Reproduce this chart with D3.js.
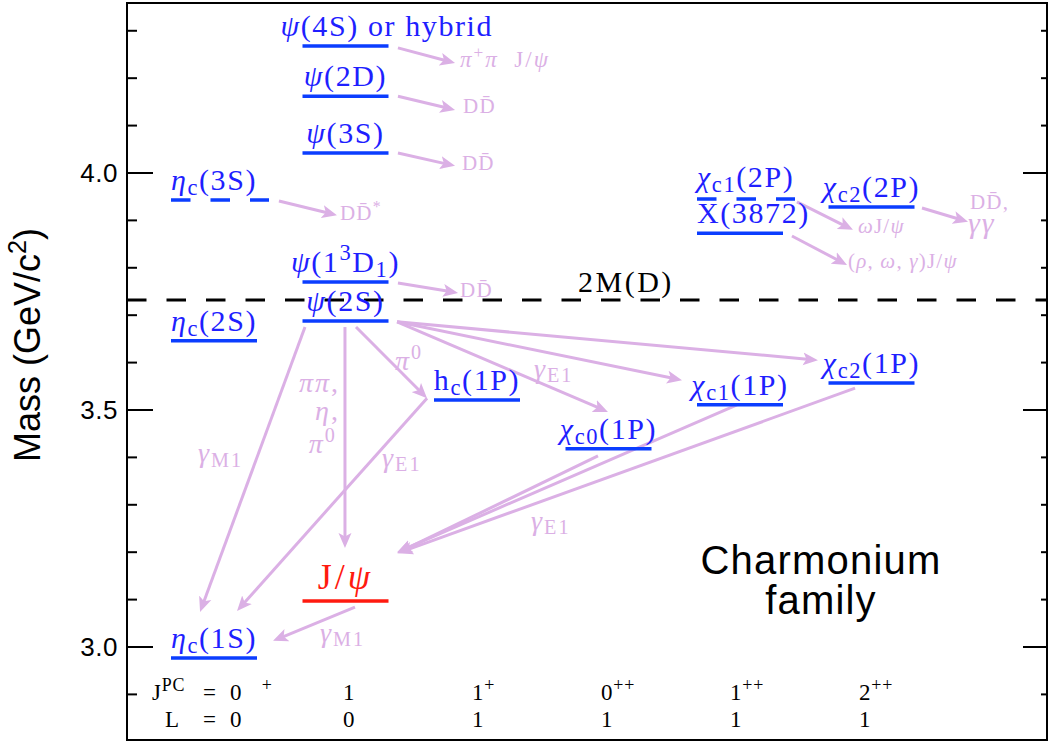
<!DOCTYPE html>
<html>
<head>
<meta charset="utf-8">
<script src="https://cdn.jsdelivr.net/npm/d3@7"></script>
<style>
  body { margin: 0; background: #fff; }
  text { white-space: pre; }
</style>
</head>
<body>
<div id="chart"></div>
<script>
const WIDTH = 1052, HEIGHT = 742;
const frame = {left: 127, right: 1047, top: 3, bottom: 740};

// levels: name, column (J^PC slot), mass in GeV
const levelNames = ["η_{c}(1S)", "J/ψ", "η_{c}(2S)", "ψ(2S)", "ψ(1^{3}D_{1})", "η_{c}(3S)",
                    "ψ(3S)", "ψ(2D)", "ψ(4S) or hybrid", "h_{c}(1P)", "χ_{c0}(1P)", "χ_{c1}(1P)",
                    "χ_{c2}(1P)", "X(3872)", "χ_{c1}(2P)", "χ_{c2}(2P)"];
const levelColumn = [0, 1, 0, 1, 1, 0, 1, 1, 1, 2, 3, 4, 5, 4, 4, 5];
const levelMass = [2.977, 3.097, 3.646, 3.688, 3.770, 3.943, 4.042, 4.162, 4.268,
                   3.521, 3.418, 3.511, 3.557, 3.873, 3.945, 3.928];
const predictedLevels = ["η_{c}(3S)", "χ_{c1}(2P)"];

// threshold
const thresholdMass = 3.732;
const thresholdLabel = "2M(D)";

// transitions / decays, [column, mass] start and end
const arrowStart = [[1.399, 4.264], [1.399, 4.162], [1.399, 4.042], [0.494, 3.941], [1.399, 3.768],
                    [1.392, 3.686], [1.392, 3.686], [1.392, 3.686], [1.080, 3.675], [0.996, 3.675],
                    [0.692, 3.675], [1.620, 3.525], [2.920, 3.403], [3.977, 3.511], [4.875, 3.546],
                    [1.072, 3.084], [4.433, 3.939], [4.395, 3.867], [5.384, 3.926]];
const arrowEnd = [[1.833, 4.232], [1.833, 4.133], [1.833, 4.015], [0.935, 3.911], [1.856, 3.747],
                  [4.593, 3.605], [3.559, 3.563], [2.996, 3.496], [1.620, 3.525], [0.996, 3.209],
                  [-0.106, 3.074], [0.175, 3.076], [1.392, 3.198], [1.392, 3.200], [1.399, 3.198],
                  [0.449, 3.013], [4.859, 3.880], [4.814, 3.806], [5.734, 3.897]];

// decay products
const decayText = ["π^{+}π  J/ψ", "DD\u0304", "DD\u0304", "DD\u0304^{*}", "DD\u0304",
                   "ωJ/ψ", "(ρ, ω, γ)J/ψ", "DD\u0304,", "γγ"];
const decayPos = [[1.871, 4.224], [1.894, 4.127], [1.886, 4.006], [0.958, 3.901], [1.871, 3.738],
                  [4.897, 3.873], [4.821, 3.800], [5.749, 3.924], [5.734, 3.874]];

// transition labels
const transText = ["ππ,", "η,", "π^{0}", "γ_{M1}", "π^{0}", "γ_{E1}", "γ_{E1}", "γ_{E1}", "γ_{M1}"];
const transPos = [[0.958, 3.538], [0.958, 3.479], [0.935, 3.409], [-0.122, 3.390], [1.376, 3.584],
                  [1.278, 3.380], [2.433, 3.568], [2.411, 3.247], [0.806, 3.011]];

// quantum numbers row
const jpcValues = ["0^{\u2007\u2007+}", "1", "1^{+}", "0^{++}", "1^{++}", "2^{++}"];
const lValues = ["0", "0", "1", "1", "1", "1"];

const majorTicks = [3.0, 3.5, 4.0];
const minorTicks = d3.range(29, 44).map(d => d / 10);

const blueText = "#1f1fff", blueLine = "#0b3dff", redC = "#ff1a0f", pink = "#dbb0e5";
const serif = "'Liberation Serif', 'Times New Roman', serif";
const sans = "'Liberation Sans', Arial, sans-serif";

let svg = d3.select("#chart").append("svg")
    .attr("width", WIDTH)
    .attr("height", HEIGHT);

let x = d3.scaleLinear().domain([0, 5]).range([214, 871.5]);
let y = d3.scaleLinear().domain([2.8038, 4.3586]).range([frame.bottom, frame.top]);
let xq = d3.scaleLinear().domain([1, 5]).range([343, 859]);

// rich text: _{sub}, ^{sup}, greek in italic
function rich(sel, str, size, subScale = 0.7) {
    const re = /([_^])\{([^}]*)\}|([^_^]+)/g;
    let shift = 0, m;
    while ((m = re.exec(str))) {
        let mode = m[1] ? (m[1] === "_" ? "sub" : "sup") : "normal";
        let txt = m[1] ? m[2] : m[3];
        let target = mode === "sub" ? 0.16 * size : mode === "sup" ? -0.4 * size : 0;
        let fs = mode === "normal" ? size : subScale * size;
        let parts = txt.match(/[\u0370-\u03ff]+|[^\u0370-\u03ff]+/g) || [];
        parts.forEach((p, i) => {
            let t = sel.append("tspan").attr("font-size", fs).text(p);
            if (/[\u0370-\u03ff]/.test(p)) t.attr("font-style", "italic");
            if (i === 0 && target !== shift) { t.attr("dy", target - shift); shift = target; }
        });
    }
}

// arrow marker
svg.append("defs").append("marker")
    .attr("id", "head")
    .attr("markerUnits", "userSpaceOnUse")
    .attr("viewBox", "0 -7 16 14")
    .attr("markerWidth", 16).attr("markerHeight", 14)
    .attr("refX", 7).attr("refY", 0)
    .attr("orient", "auto")
    .append("path")
    .attr("d", "M0,-6.5 L15,0 L0,6.5 L3.5,0 Z")
    .attr("fill", pink);

// frame
svg.append("rect")
    .attr("x", frame.left).attr("y", frame.top)
    .attr("width", frame.right - frame.left).attr("height", frame.bottom - frame.top)
    .attr("fill", "none").attr("stroke", "#000").attr("stroke-width", 2);

// ticks on both sides, pointing inward
let ticks = svg.append("g").attr("stroke", "#000").attr("stroke-width", 2);
minorTicks.forEach(v => {
    let big = majorTicks.some(t => Math.abs(t - v) < 1e-6);
    ticks.append("line").attr("x1", frame.left).attr("x2", frame.left + (big ? 26 : 10))
        .attr("y1", y(v)).attr("y2", y(v));
    ticks.append("line").attr("x1", frame.right).attr("x2", frame.right - (big ? 24 : 6))
        .attr("y1", y(v)).attr("y2", y(v));
});
svg.selectAll(".ticklabel").data(majorTicks).enter().append("text")
    .attr("x", 118).attr("y", d => y(d))
    .attr("dy", "0.35em")
    .attr("text-anchor", "end")
    .attr("font-family", sans).attr("font-size", 26).attr("letter-spacing", 0.5)
    .text(d => d.toFixed(1));

let ylab = svg.append("text")
    .attr("transform", `translate(40, 345) rotate(-90)`)
    .attr("text-anchor", "middle")
    .attr("font-family", sans).attr("font-size", 36);
rich(ylab, "Mass (GeV/c^{2})", 36);

// threshold line
svg.append("line")
    .attr("x1", frame.left).attr("x2", frame.right)
    .attr("y1", y(thresholdMass)).attr("y2", y(thresholdMass))
    .attr("stroke", "#000").attr("stroke-width", 3).attr("stroke-dasharray", "19.5,20");
let thr = svg.append("text")
    .attr("x", 578).attr("y", y(thresholdMass) - 8)
    .attr("font-family", serif).attr("font-size", 30).attr("letter-spacing", 2.5).attr("fill", "#000");
rich(thr, thresholdLabel, 30);

// arrows
arrowStart.forEach((s, i) => {
    let e = arrowEnd[i];
    let x1 = x(s[0]), y1 = y(s[1]), x2 = x(e[0]), y2 = y(e[1]);
    let len = Math.hypot(x2 - x1, y2 - y1);
    let k = (len - 8) / len;
    svg.append("line")
        .attr("x1", x1).attr("y1", y1)
        .attr("x2", x1 + (x2 - x1) * k).attr("y2", y1 + (y2 - y1) * k)
        .attr("stroke", pink).attr("stroke-width", 3)
        .attr("marker-end", "url(#head)");
});

// levels
const HALF = 43;
levelNames.forEach((name, i) => {
    let cx = x(levelColumn[i]), ly = y(levelMass[i]);
    let dashed = predictedLevels.includes(name);
    let isJpsi = name === "J/ψ";
    svg.append("line")
        .attr("x1", cx - HALF).attr("x2", cx - HALF + (dashed ? 98 : 2 * HALF))
        .attr("y1", ly).attr("y2", ly)
        .attr("stroke", isJpsi ? redC : blueLine).attr("stroke-width", 3.5)
        .attr("stroke-dasharray", dashed ? "19.5,20" : null);

    let size = isJpsi ? 36 : 30;
    let anchor = "middle", tx = cx;
    if (name === "ψ(4S) or hybrid") { anchor = "start"; tx = cx - HALF - 22; }
    if (name === "X(3872)" || name === "χ_{c1}(2P)") { anchor = "start"; tx = cx - HALF; }
    let t = svg.append("text")
        .attr("x", tx).attr("y", ly - (isJpsi ? 12 : name === "χ_{c1}(2P)" ? 12 : 10))
        .attr("text-anchor", anchor)
        .attr("font-family", serif).attr("font-size", size)
        .attr("letter-spacing", isJpsi ? 3 : 1.6)
        .attr("fill", isJpsi ? redC : blueText);
    rich(t, name, size, 0.75);
});

// decay product labels
decayText.forEach((s, i) => {
    let size = s === "γγ" ? 30 : i === 0 ? 23 : 21;
    let t = svg.append("text")
        .attr("x", x(decayPos[i][0])).attr("y", y(decayPos[i][1]))
        .attr("font-family", serif).attr("font-size", size)
        .attr("letter-spacing", s === "γγ" ? 2 : i === 0 ? 2 : 1.2).attr("fill", pink);
    rich(t, s, size, 0.75);
});

// transition labels
transText.forEach((s, i) => {
    let t = svg.append("text")
        .attr("x", x(transPos[i][0])).attr("y", y(transPos[i][1]))
        .attr("text-anchor", i < 3 ? "end" : "start")
        .attr("font-family", serif).attr("font-size", 28)
        .attr("letter-spacing", 2).attr("fill", pink);
    rich(t, s, 28, 0.72);
});

// quantum numbers
let qn = svg.append("g").attr("font-family", serif).attr("font-size", 23)
    .attr("letter-spacing", 0.8).attr("fill", "#000");
let jpcT = qn.append("text").attr("x", 152).attr("y", 700);
rich(jpcT, "J^{PC}", 23, 0.78);
qn.append("text").attr("x", 210).attr("y", 700).attr("text-anchor", "middle").text("=");
qn.append("text").attr("x", 165).attr("y", 727).text("L");
qn.append("text").attr("x", 210).attr("y", 727).attr("text-anchor", "middle").text("=");
jpcValues.forEach((v, i) => {
    let t = qn.append("text").attr("x", i === 0 ? 230 : xq(i)).attr("y", 700);
    rich(t, v, 23, 0.78);
    qn.append("text").attr("x", i === 0 ? 230 : xq(i)).attr("y", 727).text(lValues[i]);
});

// title
["Charmonium", "family"].forEach((s, i) => {
    svg.append("text")
        .attr("x", 821).attr("y", 574 + 40 * i)
        .attr("text-anchor", "middle")
        .attr("font-family", sans).attr("font-size", 40).attr("letter-spacing", 1.2)
        .attr("fill", "#000")
        .text(s);
});
</script>
</body>
</html>
